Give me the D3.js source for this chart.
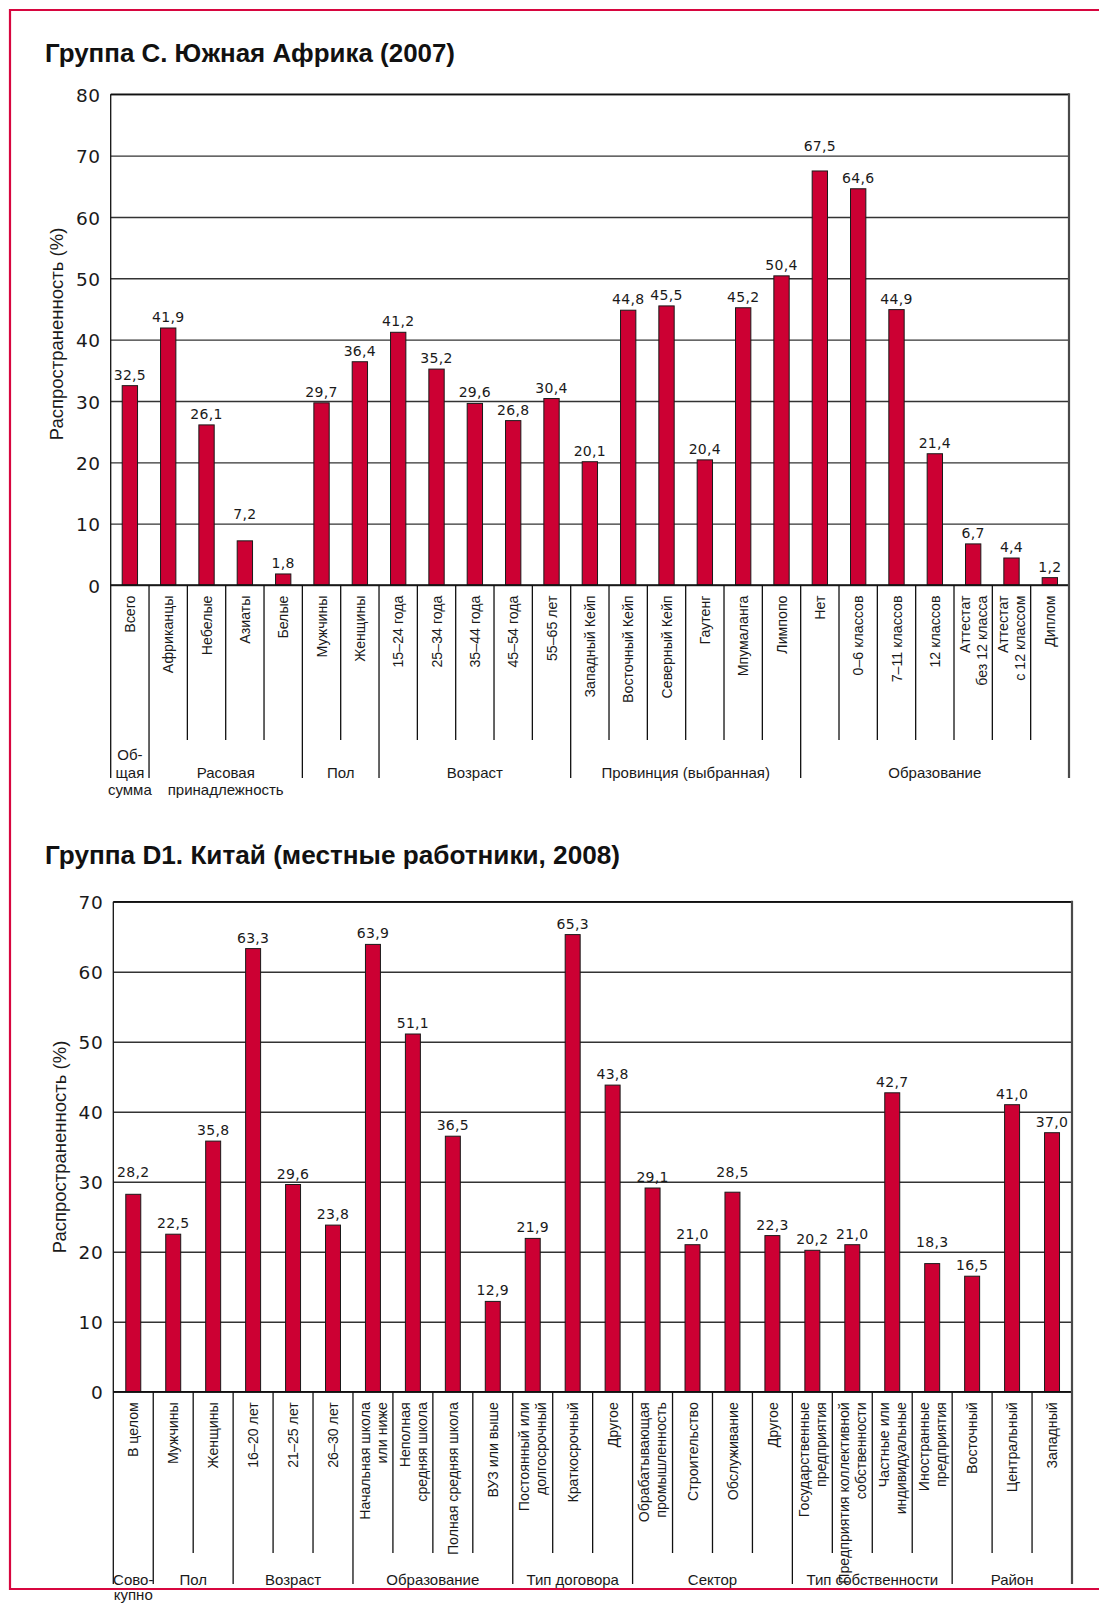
<!DOCTYPE html>
<html><head><meta charset="utf-8">
<script src="https://cdn.jsdelivr.net/npm/d3@7"></script>
<style>body{margin:0;background:#fff} svg{display:block}</style>
</head><body>
<svg id="c" width="1099" height="1603"></svg>
<script>
// ---------- DATA: Группа C. Южная Африка (2007) ----------
const categoriesSA = ["Всего","Африканцы","Небелые","Азиаты","Белые","Мужчины","Женщины",
  "15–24 года","25–34 года","35–44 года","45–54 года","55–65 лет",
  "Западный Кейп","Восточный Кейп","Северный Кейп","Гаутенг","Мпумаланга","Лимпопо",
  "Нет","0–6 классов","7–11 классов","12 классов","Аттестат\nбез 12 класса","Аттестат\nс 12 классом","Диплом"];
const valuesSA = [32.5,41.9,26.1,7.2,1.8,29.7,36.4,41.2,35.2,29.6,26.8,30.4,
  20.1,44.8,45.5,20.4,45.2,50.4,67.5,64.6,44.9,21.4,6.7,4.4,1.2];
const groupLabelsSA = ["Об-\nщая\nсумма","Расовая\nпринадлежность","Пол","Возраст","Провинция (выбранная)","Образование"];
const groupSizesSA = [1,4,2,5,6,7];
const ticksSA = [0,10,20,30,40,50,60,70,80];

// ---------- DATA: Группа D1. Китай (местные работники, 2008) ----------
const categoriesCN = ["В целом","Мужчины","Женщины","16–20 лет","21–25 лет","26–30 лет",
  "Начальная школа\nили ниже","Неполная\nсредняя школа","Полная средняя школа","ВУЗ или выше",
  "Постоянный или\nдолгосрочный","Краткосрочный","Другое",
  "Обрабатывающая\nпромышленность","Строительство","Обслуживание","Другое",
  "Государственные\nпредприятия","Предприятия коллективной\nсобственности","Частные или\nиндивидуальные","Иностранные\nпредприятия",
  "Восточный","Центральный","Западный"];
const valuesCN = [28.2,22.5,35.8,63.3,29.6,23.8,63.9,51.1,36.5,12.9,21.9,65.3,43.8,
  29.1,21.0,28.5,22.3,20.2,21.0,42.7,18.3,16.5,41.0,37.0];
const groupLabelsCN = ["Сово-\nкупно","Пол","Возраст","Образование","Тип договора","Сектор","Тип собственности","Район"];
const groupSizesCN = [1,2,3,4,3,4,4,3];
const ticksCN = [0,10,20,30,40,50,60,70];

const fmt = v => v.toFixed(1).replace(".", ",");
const svg = d3.select("#c");
const BAR = "#CC0033", RED = "#D7063F";

function drawChart(cfg) {
  const g = svg.append("g");
  const yMax = d3.max(cfg.ticks);
  const x = d3.scaleBand().domain(d3.range(cfg.cats.length))
    .range([cfg.left, cfg.right]).paddingInner(cfg.pin).paddingOuter(cfg.pin / 2);
  const y = d3.scaleLinear().domain([0, yMax]).range([cfg.bottom, cfg.top]);
  const step = x.step();
  const bx = i => cfg.left + i * step;

  // title
  g.append("text").attr("x", 45).attr("y", cfg.titleY)
    .attr("font-family", "Liberation Sans, Arial, sans-serif").attr("font-weight", "bold")
    .attr("font-size", 25.5).attr("fill", "#111")
    .attr("textLength", cfg.titleW).attr("lengthAdjust", "spacingAndGlyphs").text(cfg.title);

  // y axis with gridlines
  const ax = g.append("g").attr("transform", `translate(${cfg.left},0)`)
    .call(d3.axisLeft(y).tickValues(cfg.ticks).tickSizeInner(-(cfg.right - cfg.left))
      .tickSizeOuter(0).tickPadding(10).tickFormat(d3.format("d")));
  ax.select(".domain").remove();
  ax.selectAll(".tick line").attr("stroke", "#333").attr("stroke-width", 1.4);
  ax.selectAll(".tick text").attr("font-family", "DejaVu Sans, sans-serif")
    .attr("font-size", 18.5).attr("letter-spacing", 0.6).attr("fill", "#1a1a1a").attr("dy", "0.38em");

  // y title
  g.append("text").attr("transform", `translate(${cfg.yTitleX},${cfg.yTitleY}) rotate(-90)`)
    .attr("text-anchor", "middle").attr("font-family", "Liberation Sans, Arial, sans-serif")
    .attr("font-size", 18.5).attr("fill", "#1a1a1a").text("Распространенность (%)");

  // bars
  g.selectAll("rect.bar").data(cfg.vals).join("rect").attr("class", "bar")
    .attr("x", (d, i) => x(i)).attr("width", x.bandwidth())
    .attr("y", d => y(d)).attr("height", d => y(0) - y(d))
    .attr("fill", BAR).attr("stroke", "#1a1a1a").attr("stroke-width", 1);

  // value labels
  g.selectAll("text.val").data(cfg.vals).join("text").attr("class", "val")
    .attr("x", (d, i) => x(i) + x.bandwidth() / 2)
    .attr("y", (d, i) => cfg.raised.includes(i) ? y(Math.ceil(d / 10) * 10) - 4.5 : y(d) - 6)
    .attr("text-anchor", "middle").attr("font-family", "DejaVu Sans, sans-serif")
    .attr("font-size", 14).attr("letter-spacing", 0.3).attr("fill", "#1a1a1a").text(fmt);

  // frame lines: top, x-axis, left, right
  g.append("line").attr("x1", cfg.left).attr("x2", cfg.right).attr("y1", y(yMax)).attr("y2", y(yMax))
    .attr("stroke", "#111").attr("stroke-width", 1.5);
  g.append("line").attr("x1", cfg.left).attr("x2", cfg.right).attr("y1", y(0)).attr("y2", y(0))
    .attr("stroke", "#111").attr("stroke-width", 1.5);
  g.append("line").attr("x1", cfg.left).attr("x2", cfg.left).attr("y1", y(yMax)).attr("y2", cfg.sepLong)
    .attr("stroke", "#111").attr("stroke-width", 1.3);
  g.append("line").attr("x1", cfg.right).attr("x2", cfg.right).attr("y1", y(yMax) - 1).attr("y2", cfg.sepLong)
    .attr("stroke", "#4a4a4a").attr("stroke-width", 2.2);

  // separators
  const groupEnds = d3.cumsum(cfg.groupSizes);
  for (let i = 1; i < cfg.cats.length; i++) {
    const isGroup = groupEnds.includes(i);
    g.append("line").attr("x1", bx(i)).attr("x2", bx(i)).attr("y1", y(0))
      .attr("y2", isGroup ? cfg.sepLong : cfg.sepShort)
      .attr("stroke", "#111").attr("stroke-width", 1.3);
  }

  // category labels (rotated)
  const cfs = 14.2, clh = 17;
  cfg.cats.forEach((c, i) => {
    const lines = c.split("\n");
    const cx = x(i) + x.bandwidth() / 2;
    lines.forEach((ln, k) => {
      const bxl = cx + (k - (lines.length - 1) / 2) * clh + 0.36 * cfs;
      g.append("text").attr("transform", `translate(${bxl},${y(0) + 10.5}) rotate(-90)`)
        .attr("text-anchor", "end").attr("font-family", "Liberation Sans, Arial, sans-serif")
        .attr("font-size", cfs).attr("fill", "#1a1a1a").text(ln);
    });
  });

  // group labels
  let start = 0;
  cfg.groupLabels.forEach((lab, gi) => {
    const n = cfg.groupSizes[gi];
    const cx = bx(start) + n * step / 2;
    const lines = lab.split("\n");
    const off = lines.length > 2 ? -1 : 0;
    lines.forEach((ln, k) => {
      g.append("text").attr("x", cx).attr("y", cfg.groupBaseline + (k + off) * cfg.glh)
        .attr("text-anchor", "middle").attr("font-family", "Liberation Sans, Arial, sans-serif")
        .attr("font-size", 15).attr("fill", "#1a1a1a").text(ln);
    });
    start += n;
  });
}

drawChart({
  title: "Группа C. Южная Африка (2007)", titleY: 62, titleW: 410,
  cats: categoriesSA, vals: valuesSA, ticks: ticksSA,
  groupLabels: groupLabelsSA, groupSizes: groupSizesSA,
  left: 110.7, right: 1069, top: 94.3, bottom: 585, pin: 0.6,
  yTitleX: 63, yTitleY: 334, sepShort: 740, sepLong: 778, groupBaseline: 777.5, glh: 17.5,
  raised: [3, 18]
});
drawChart({
  title: "Группа D1. Китай (местные работники, 2008)", titleY: 864, titleW: 575,
  cats: categoriesCN, vals: valuesCN, ticks: ticksCN,
  groupLabels: groupLabelsCN, groupSizes: groupSizesCN,
  left: 113.3, right: 1072, top: 901.7, bottom: 1391.7, pin: 0.625,
  yTitleX: 66, yTitleY: 1147, sepShort: 1553, sepLong: 1584, groupBaseline: 1584.5, glh: 15.5,
  raised: [0, 15, 20]
});

// red page frame
svg.append("line").attr("x1", 9.5).attr("x2", 1099).attr("y1", 10).attr("y2", 10).attr("stroke", RED).attr("stroke-width", 2.2);
svg.append("line").attr("x1", 9.5).attr("x2", 1099).attr("y1", 1589).attr("y2", 1589).attr("stroke", RED).attr("stroke-width", 2.2);
svg.append("line").attr("x1", 10).attr("x2", 10).attr("y1", 9).attr("y2", 1590).attr("stroke", RED).attr("stroke-width", 2.2);
</script>
</body></html>
